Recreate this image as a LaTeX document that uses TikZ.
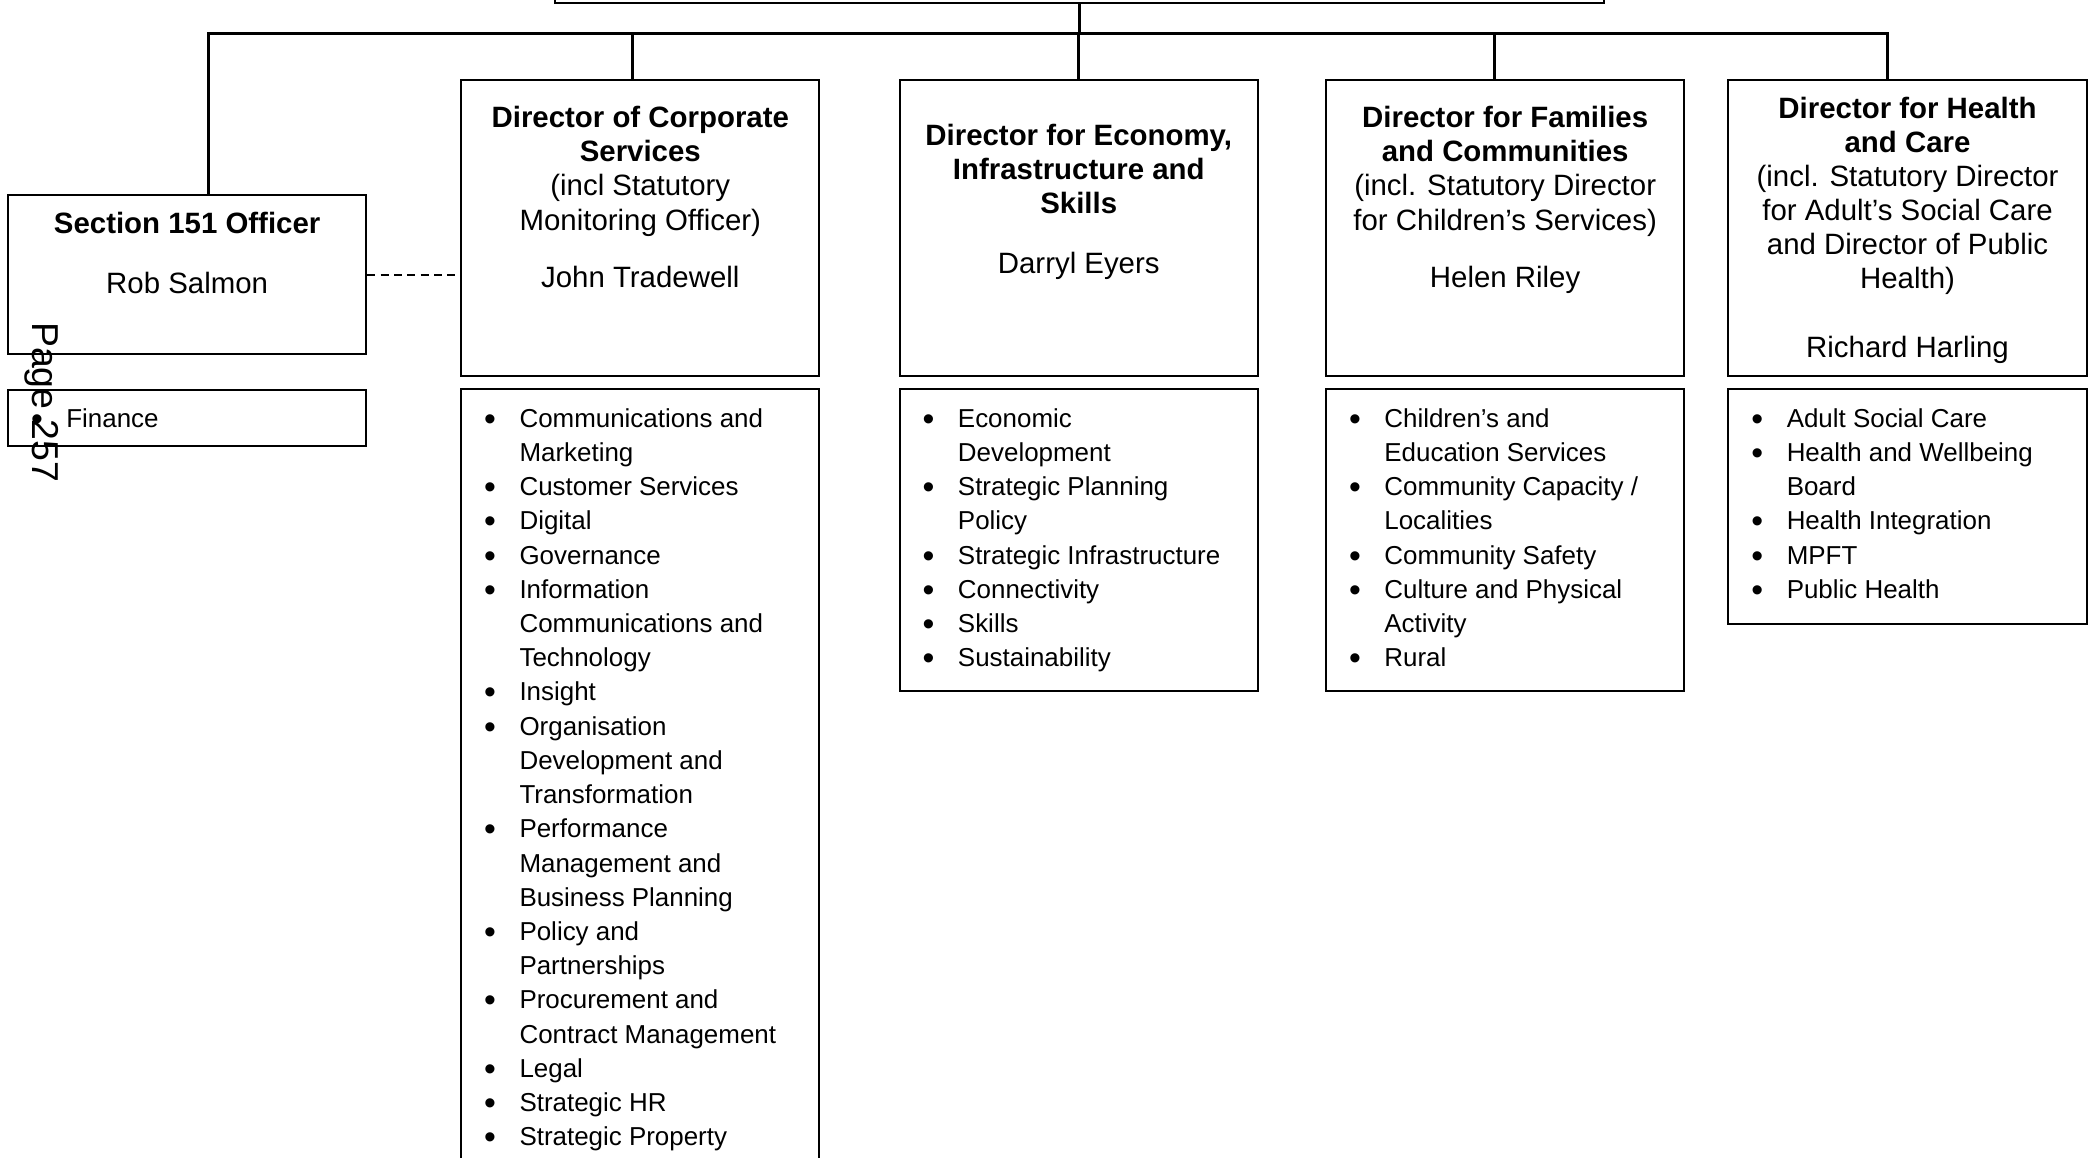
\documentclass[tikz,border=0pt]{standalone}
\usepackage{fontspec}
\setmainfont{Liberation Sans}
\usetikzlibrary{positioning}

\newcommand{\itm}{\makebox[22pt]{\raisebox{-1.1pt}{\scalebox{1.3}{\textbullet}}}}

\begin{document}
\begin{tikzpicture}[x=0.5pt, y=-0.5pt,
    post/.style={draw, line width=0.75pt, minimum width=134pt, inner sep=0},
    head/.style={post, minimum height=110.5pt},
    title/.style={align=center, inner sep=0, font=\fontsize{11}{12.75}\selectfont},
    items/.style={inner sep=0, font=\fontsize{9.7}{12.8}\selectfont},
    bar/.style={line width=1.4pt, line cap=rect},
    drop/.style={line width=1.1pt},
    aside/.style={line width=0.8pt, dash pattern=on 3pt off 2pt}]

    \useasboundingbox (0,0) rectangle (1565,865.6);

    \node[post, minimum width=392.5pt, minimum height=21pt] (chief) at (807.5,-19) {};

    \node[post, minimum height=59.5pt] (s151) at (140,205.5) {};
    \node[post, minimum height=21pt] (fin) at (140,313) {};
    \node[head] (corp) at (479,170.5) {};
    \node[post, minimum height=304.5pt] (corplist) at (479,595.5) {};
    \node[head] (econ) at (807,170.5) {};
    \node[post, minimum height=113pt] (econlist) at (807,404) {};
    \node[head] (fam) at (1126,170.5) {};
    \node[post, minimum height=113pt] (famlist) at (1126,404) {};
    \node[head] (health) at (1427,170.5) {};
    \node[post, minimum height=88pt] (healthlist) at (1427,379) {};

    \node[title, below=6.5pt of s151.north] (s151t) {\textbf{Section 151 Officer}\\[9.6pt] Rob Salmon};
    \node[title, below=10pt of corp.north] (corpt) {\textbf{Director of Corporate}\\ \textbf{Services}\\
        (incl Statutory\\ Monitoring Officer)\\[8.8pt] John Tradewell};
    \node[title, below=16.5pt of econ.north] (econt) {\textbf{Director for Economy,}\\
        \textbf{Infrastructure and}\\ \textbf{Skills}\\[9.6pt] Darryl Eyers};
    \node[title, below=10pt of fam.north] (famt) {\textbf{Director for Families}\\ \textbf{and Communities}\\
        (incl. Statutory Director\\ for Children’s Services)\\[8.8pt] Helen Riley};
    \node[title, below=6.5pt of health.north] (healtht) {\textbf{Director for Health}\\ \textbf{and Care}\\
        (incl. Statutory Director\\ for Adult’s Social Care\\ and Director of Public\\ Health)\\[13pt] Richard Harling};

    \node[items, below right=5pt and 0pt of fin.north west] (finitems) {\begin{tabular}[t]{@{}l@{}l@{}}
        \itm & Finance\end{tabular}};
    \node[items, below right=5.5pt and 0pt of corplist.north west] (corpitems) {\begin{tabular}[t]{@{}l@{}l@{}}
        \itm & Communications and\\ & Marketing\\
        \itm & Customer Services\\
        \itm & Digital\\
        \itm & Governance\\
        \itm & Information\\ & Communications and\\ & Technology\\
        \itm & Insight\\
        \itm & Organisation\\ & Development and\\ & Transformation\\
        \itm & Performance\\ & Management and\\ & Business Planning\\
        \itm & Policy and\\ & Partnerships\\
        \itm & Procurement and\\ & Contract Management\\
        \itm & Legal\\
        \itm & Strategic HR\\
        \itm & Strategic Property\end{tabular}};
    \node[items, below right=5.5pt and 0pt of econlist.north west] (econitems) {\begin{tabular}[t]{@{}l@{}l@{}}
        \itm & Economic\\ & Development\\
        \itm & Strategic Planning\\ & Policy\\
        \itm & Strategic Infrastructure\\
        \itm & Connectivity\\
        \itm & Skills\\
        \itm & Sustainability\end{tabular}};
    \node[items, below right=5.5pt and 0pt of famlist.north west] (famitems) {\begin{tabular}[t]{@{}l@{}l@{}}
        \itm & Children’s and\\ & Education Services\\
        \itm & Community Capacity /\\ & Localities\\
        \itm & Community Safety\\
        \itm & Culture and Physical\\ & Activity\\
        \itm & Rural\end{tabular}};
    \node[items, below right=5.5pt and 0pt of healthlist.north west] (healthitems) {\begin{tabular}[t]{@{}l@{}l@{}}
        \itm & Adult Social Care\\
        \itm & Health and Wellbeing\\ & Board\\
        \itm & Health Integration\\
        \itm & MPFT\\
        \itm & Public Health\end{tabular}};

    \foreach \n/\x in {s151/156, corp/473, econ/807, fam/1118, health/1412} {
        \coordinate (d\n) at (\x,25);
        \draw[drop] (d\n) -- (d\n |- \n.north);
    }
    \draw[bar] (ds151) -- (dhealth);
    \draw[drop] (chief.south) -- (chief.south |- decon);
    \draw[aside] (s151.east) -- (s151.east -| corp.west);

    \node[rotate=-90, inner sep=0, font=\fontsize{14}{16}\selectfont] (pagenum) at (31.5,301) {Page 257};
\end{tikzpicture}
\end{document}
